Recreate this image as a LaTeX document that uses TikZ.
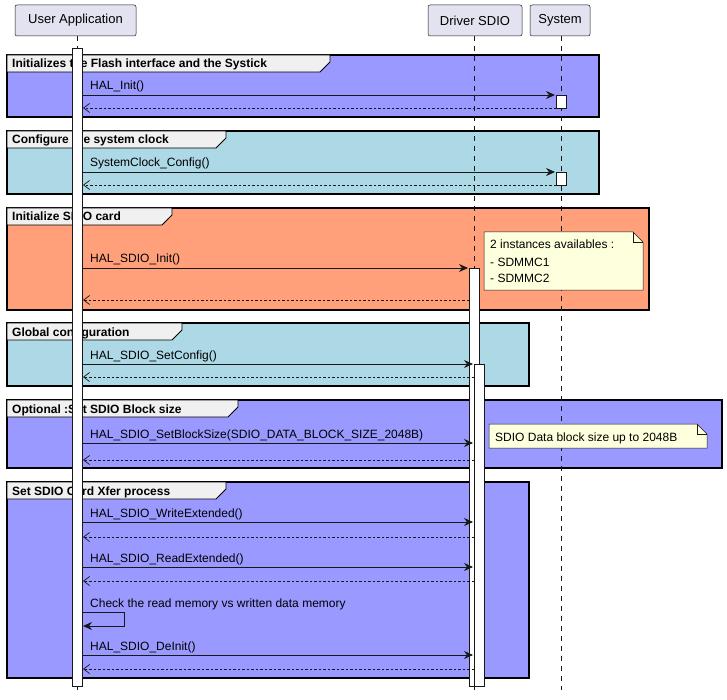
\documentclass[tikz,border=0pt]{standalone}
\usepackage{fontspec}
\setmainfont{Liberation Sans}
\usetikzlibrary{arrows.meta}
\definecolor{grpblue}{RGB}{153,153,255}
\definecolor{grplight}{RGB}{173,216,230}
\definecolor{grpsalmon}{RGB}{255,160,122}
\definecolor{partfill}{RGB}{226,226,240}
\definecolor{notefill}{RGB}{254,255,221}
\definecolor{ink}{RGB}{24,24,24}
\begin{document}
\begin{tikzpicture}[x=1pt,y=-1pt,
	part/.style={draw=ink,fill=partfill,rounded corners=2pt,line width=0.5pt},
	frame/.style={draw=black,line width=1.4pt},
	msg/.style={draw=ink,line width=0.7pt,-{Stealth[length=9pt,width=8pt,inset=3pt]}},
	ret/.style={draw=ink,line width=0.7pt,dash pattern=on 2.5pt off 2pt,-{Straight Barb[length=6pt,width=9pt]}},
	bar/.style={draw=ink,fill=white,line width=0.7pt},
	lbl/.style={anchor=base west,inner sep=0pt,font=\fontsize{12}{14}\selectfont},
	ttl/.style={anchor=base west,inner sep=0pt,font=\bfseries\fontsize{12}{14}\selectfont},
	note/.style={draw=ink,fill=notefill,line width=0.5pt}]
	\useasboundingbox (0,0) rectangle (727,700);
	
	% groups
	\draw[frame,fill=grpblue] (7,55) rectangle (599,117);
	\draw[frame,fill=grplight] (7,131) rectangle (599,194);
	\draw[frame,fill=grpsalmon] (7,208) rectangle (649,310);
	\draw[frame,fill=grplight] (7,323) rectangle (529,386);
	\draw[frame,fill=grpblue] (7,400) rectangle (722,468);
	\draw[frame,fill=grpblue] (7,482) rectangle (529,678);
	\foreach \top/\w/\txt in {55/330/Initializes the Flash interface and the Systick,
		131/226/Configure the system clock,208/172/Initialize SDIO card,
		323/182/Global configuration,400/238/Optional :Set SDIO Block size,
		482/226/Set SDIO Card Xfer process}{
		\draw[frame,line width=0.8pt,fill=gray!12] (7,\top) -- (\w,\top) -- (\w,\top+7) -- (\w-10,\top+17) -- (7,\top+17) -- cycle;
		\node[ttl] at (12,\top+13) {\txt};
	}
	
	% participants
	\node[part,minimum width=121pt,minimum height=31pt] (user) at (75.5,20.5) {\fontsize{13}{15}\selectfont User Application};
	\node[part,minimum width=94pt,minimum height=31pt] (sdio) at (475,20.5) {\fontsize{13}{15}\selectfont Driver SDIO};
	\node[part,minimum width=60pt,minimum height=31pt] (sys) at (560,20.5) {\fontsize{13}{15}\selectfont System};
	\draw[ink,dash pattern=on 5pt off 5pt,line width=0.5pt] (user.south -| 77,0) -- (77,690);
	\draw[ink,dash pattern=on 5pt off 5pt,line width=0.5pt] (sdio.south -| 474,0) -- (474,690);
	\draw[ink,dash pattern=on 5pt off 5pt,line width=0.5pt] (sys.south -| 561,0) -- (561,690);
	
	% activations
	\draw[bar] (72,48) rectangle (82,686);
	\draw[bar] (469,268) rectangle (479,686);
	\draw[bar] (474,364) rectangle (484,686);
	\draw[bar] (556,95) rectangle (566,108);
	\draw[bar] (556,172) rectangle (566,185);
	
	% messages
	\node[lbl] at (90,90) {HAL\_Init()};
	\draw[msg] (82,95) -- (555,95);
	\draw[ret] (556,108) -- (83,108);
	\node[lbl] at (90,167) {SystemClock\_Config()};
	\draw[msg] (82,172) -- (555,172);
	\draw[ret] (556,185) -- (83,185);
	\node[lbl] at (90,263) {HAL\_SDIO\_Init()};
	\draw[msg] (82,268) -- (468,268);
	\draw[ret] (469,300) -- (83,300);
	\node[lbl] at (90,359) {HAL\_SDIO\_SetConfig()};
	\draw[msg] (82,364) -- (473,364);
	\draw[ret] (474,377) -- (83,377);
	\node[lbl] at (90,438) {HAL\_SDIO\_SetBlockSize(SDIO\_DATA\_BLOCK\_SIZE\_2048B)};
	\draw[msg] (82,443) -- (473,443);
	\draw[ret] (474,460) -- (83,460);
	\node[lbl] at (90,517) {HAL\_SDIO\_WriteExtended()};
	\draw[msg] (82,522) -- (473,522);
	\draw[ret] (474,537) -- (83,537);
	\node[lbl] at (90,562) {HAL\_SDIO\_ReadExtended()};
	\draw[msg] (82,567) -- (473,567);
	\draw[ret] (474,581) -- (83,581);
	\node[lbl] at (90,607) {Check the read memory vs written data memory};
	\draw[msg] (82,612) -- (124,612) -- (124,626) -- (83,626);
	\node[lbl] at (90,650) {HAL\_SDIO\_DeInit()};
	\draw[msg] (82,655) -- (473,655);
	\draw[ret] (474,669) -- (83,669);
	
	% notes
	\draw[note] (484,232) -- (633,232) -- (643,242) -- (643,290) -- (484,290) -- cycle;
	\draw[ink,line width=0.5pt] (633,232) -- (633,242) -- (643,242);
	\node[lbl] at (490,249) {2 instances availables :};
	\node[lbl] at (490,266) {- SDMMC1};
	\node[lbl] at (490,283) {- SDMMC2};
	\draw[note] (489,424) -- (697,424) -- (707,434) -- (707,448) -- (489,448) -- cycle;
	\draw[ink,line width=0.5pt] (697,424) -- (697,434) -- (707,434);
	\node[lbl] at (495,441) {SDIO Data block size up to 2048B};
\end{tikzpicture}
\end{document}
